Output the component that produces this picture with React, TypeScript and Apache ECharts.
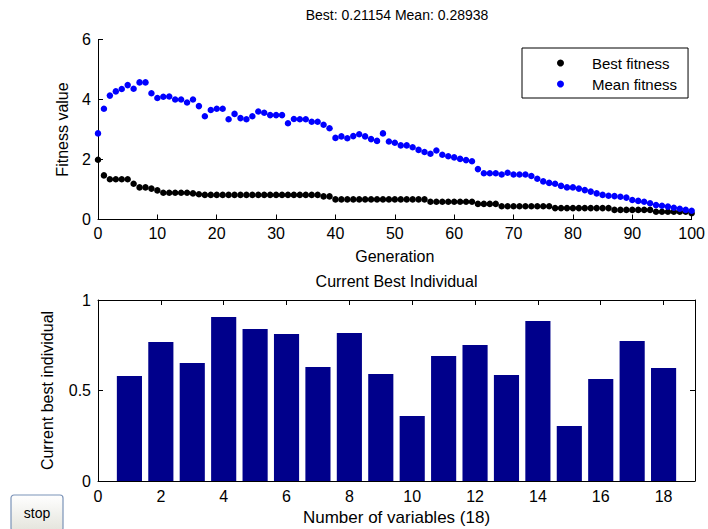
import React, { useEffect, useRef } from "react";
import * as echarts from "echarts";

const FONT = 'Arial, "Liberation Sans", Helvetica, sans-serif';

const topTitle = "Best: 0.21154 Mean: 0.28938";
const bottomTitle = "Current Best Individual";
const seriesNames = ["Best fitness", "Mean fitness"];

const bestFitness = [
  1.99, 1.47, 1.34, 1.34, 1.34, 1.34, 1.19, 1.07, 1.07, 1.03,
  0.97, 0.89, 0.89, 0.89, 0.89, 0.89, 0.87, 0.84, 0.82, 0.82,
  0.82, 0.82, 0.82, 0.82, 0.82, 0.82, 0.82, 0.82, 0.82, 0.82,
  0.82, 0.82, 0.82, 0.82, 0.82, 0.82, 0.82, 0.82, 0.77, 0.77,
  0.67, 0.67, 0.67, 0.67, 0.67, 0.67, 0.67, 0.67, 0.67, 0.67,
  0.67, 0.67, 0.67, 0.67, 0.67, 0.67, 0.59, 0.59, 0.59, 0.59,
  0.59, 0.59, 0.59, 0.59, 0.52, 0.52, 0.52, 0.52, 0.44, 0.44,
  0.44, 0.44, 0.44, 0.44, 0.44, 0.44, 0.44, 0.38, 0.38, 0.38,
  0.38, 0.38, 0.38, 0.38, 0.38, 0.38, 0.38, 0.32, 0.32, 0.32,
  0.32, 0.32, 0.32, 0.32, 0.26, 0.26, 0.26, 0.26, 0.26, 0.26,
  0.21,
];

const meanFitness = [
  2.87, 3.69, 4.13, 4.27, 4.35, 4.48, 4.36, 4.57, 4.57, 4.21,
  4.05, 4.09, 4.10, 4.00, 4.00, 3.90, 4.00, 3.78, 3.44, 3.65,
  3.69, 3.69, 3.34, 3.52, 3.38, 3.34, 3.44, 3.60, 3.56, 3.48,
  3.48, 3.48, 3.21, 3.35, 3.34, 3.34, 3.26, 3.26, 3.16, 3.04,
  2.72, 2.77, 2.71, 2.78, 2.84, 2.77, 2.68, 2.62, 2.87, 2.60,
  2.56, 2.47, 2.47, 2.41, 2.32, 2.25, 2.19, 2.30, 2.16, 2.11,
  2.07, 2.02, 1.98, 1.94, 1.68, 1.54, 1.54, 1.54, 1.50, 1.56,
  1.50, 1.50, 1.50, 1.45, 1.36, 1.27, 1.22, 1.19, 1.12, 1.07,
  1.07, 1.03, 0.98, 0.93, 0.87, 0.82, 0.79, 0.78, 0.76, 0.73,
  0.65, 0.62, 0.59, 0.54, 0.48, 0.46, 0.43, 0.39, 0.36, 0.32,
  0.29,
];

const variableIndex = [1, 2, 3, 4, 5, 6, 7, 8, 9, 10, 11, 12, 13, 14, 15, 16, 17, 18];
const bestIndividual = [
  0.58, 0.768, 0.652, 0.906, 0.84, 0.812, 0.63, 0.818, 0.591,
  0.359, 0.691, 0.751, 0.586, 0.884, 0.304, 0.564, 0.773, 0.624,
];

const axisCommon = {
  axisLine: { show: true, onZero: false, lineStyle: { color: "#000", width: 1 } },
  axisTick: { show: true, inside: true, length: 5, lineStyle: { color: "#000" } },
  splitLine: { show: false },
  axisLabel: { color: "#000", fontSize: 16, fontFamily: FONT },
  nameTextStyle: { color: "#000", fontSize: 16, fontFamily: FONT },
};

export default function App() {
  const ref = useRef<HTMLDivElement>(null);

  useEffect(() => {
    if (!ref.current) return;
    const chart = echarts.init(ref.current, undefined, { renderer: "svg" });

    const option: any = {
      animation: false,
      backgroundColor: "#fff",
      textStyle: { fontFamily: FONT },
      title: [
        {
          text: topTitle,
          left: 397,
          top: 8,
          padding: 0,
          textAlign: "center",
          textStyle: { fontSize: 14, fontWeight: "normal", color: "#000", fontFamily: FONT },
        },
        {
          text: bottomTitle,
          left: 396.5,
          top: 273,
          padding: 0,
          textAlign: "center",
          textStyle: { fontSize: 16, fontWeight: "normal", color: "#000", fontFamily: FONT },
        },
      ],
      legend: {
        data: seriesNames,
        orient: "vertical",
        left: 522,
        top: 48,
        icon: "circle",
        itemWidth: 7,
        itemHeight: 7,
        itemGap: 5,
        padding: [7, 11, 6, 35],
        borderColor: "#000",
        borderWidth: 1,
        borderRadius: 0,
        backgroundColor: "#fff",
        textStyle: {
          color: "#000",
          fontSize: 15,
          fontFamily: FONT,
          lineHeight: 16,
          padding: [0, 0, 0, 23],
        },
      },
      grid: [
        { left: 98, right: 13.5, top: 39.5, height: 180, containLabel: false },
        { left: 98, right: 13, top: 300, height: 181, containLabel: false },
      ],
      xAxis: [
        {
          ...axisCommon,
          type: "value",
          gridIndex: 0,
          min: 0,
          max: 100,
          interval: 10,
          name: "Generation",
          nameLocation: "middle",
          nameGap: 29,
          axisLabel: { ...axisCommon.axisLabel, margin: 6 },
        },
        {
          ...axisCommon,
          type: "value",
          gridIndex: 1,
          min: 0,
          max: 19,
          interval: 2,
          name: "Number of variables (18)",
          nameLocation: "middle",
          nameGap: 28,
          nameTextStyle: { ...axisCommon.nameTextStyle, fontSize: 17 },
          axisLabel: { ...axisCommon.axisLabel, margin: 7, showMaxLabel: false },
        },
        {
          ...axisCommon,
          type: "value",
          gridIndex: 1,
          position: "top",
          min: 0,
          max: 19,
          interval: 2,
          axisLabel: { show: false },
        },
      ],
      yAxis: [
        {
          ...axisCommon,
          type: "value",
          gridIndex: 0,
          min: 0,
          max: 6,
          interval: 2,
          name: "Fitness value",
          nameLocation: "middle",
          nameGap: 28,
          axisLabel: { ...axisCommon.axisLabel, margin: 7 },
        },
        {
          ...axisCommon,
          type: "value",
          gridIndex: 1,
          min: 0,
          max: 1,
          interval: 0.5,
          name: "Current best individual",
          nameLocation: "middle",
          nameGap: 43,
          axisLabel: { ...axisCommon.axisLabel, margin: 7 },
        },
        {
          ...axisCommon,
          type: "value",
          gridIndex: 1,
          position: "right",
          min: 0,
          max: 1,
          interval: 0.5,
          axisLabel: { show: false },
        },
      ],
      series: [
        {
          name: seriesNames[0],
          type: "scatter",
          xAxisIndex: 0,
          yAxisIndex: 0,
          symbol: "circle",
          symbolSize: 6.5,
          itemStyle: { color: "#000000", opacity: 1 },
          data: bestFitness.map((v, i) => [i, v]),
        },
        {
          name: seriesNames[1],
          type: "scatter",
          xAxisIndex: 0,
          yAxisIndex: 0,
          symbol: "circle",
          symbolSize: 6.5,
          itemStyle: { color: "#0000ff", opacity: 1 },
          data: meanFitness.map((v, i) => [i, v]),
        },
        {
          name: "Current best individual",
          type: "bar",
          xAxisIndex: 1,
          yAxisIndex: 1,
          barWidth: "80%",
          itemStyle: { color: "#00008b" },
          data: bestIndividual.map((v, i) => [variableIndex[i], v]),
        },
      ],
      graphic: [
        {
          type: "rect",
          x: 11,
          y: 495,
          shape: { x: 0, y: 0, width: 52, height: 36, r: 3 },
          style: {
            fill: new echarts.graphic.LinearGradient(0, 0, 0, 1, [
              { offset: 0, color: "#ffffff" },
              { offset: 1, color: "#e4e4dc" },
            ]),
            stroke: "#7b93b8",
            lineWidth: 1.2,
          },
        },
        {
          type: "text",
          x: 37,
          y: 513,
          style: {
            text: "stop",
            align: "center",
            verticalAlign: "middle",
            fontSize: 14,
            fontFamily: FONT,
            fill: "#000",
          },
        },
      ],
    };

    chart.setOption(option);
    return () => chart.dispose();
  }, []);

  return (
    <div
      ref={ref}
      style={{
        position: "absolute",
        left: 0,
        top: 0,
        width: 708,
        height: 529,
        background: "#fff",
      }}
    />
  );
}
